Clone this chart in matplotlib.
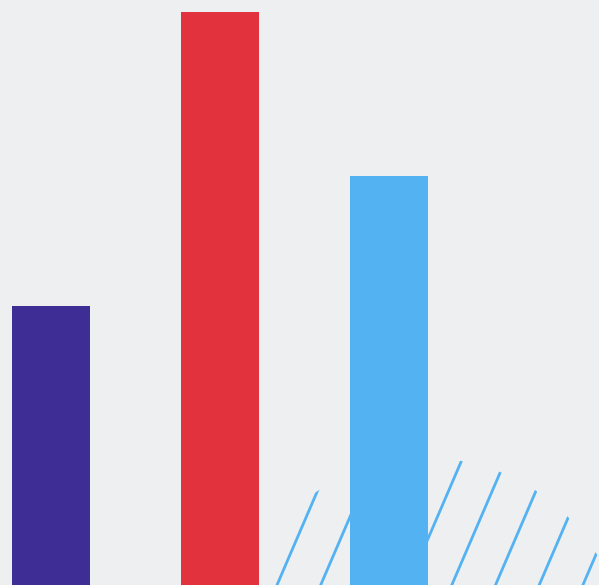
import numpy as np
import matplotlib.pyplot as plt
from matplotlib.patches import Ellipse

categories = ['A', 'B', 'C']
values = [48.8, 100, 71.4]
colors = ['#3d2d94', '#e1323d', '#53b2f2']

BG = '#eeeff1'
W, H = 599, 585

fig = plt.figure(figsize=(W / 100, H / 100), dpi=100, facecolor=BG)
ax = fig.add_axes([0, 0, 1, 1])
ax.set_facecolor(BG)

x = np.arange(len(categories))
ax.bar(x, values, width=0.4615, color=colors, zorder=3)
ax.set_xlim(-0.302, 3.243)
ax.set_ylim(0, 102.18)
ax.axis('off')

# decorative hatched circle behind the bars (axes fraction coords)
cx, cy, r = 427, 656, 198
circ = Ellipse((cx / W, 1 - cy / H), 2 * r / W, 2 * r / H,
               transform=ax.transAxes, facecolor='none', edgecolor='none')
ax.add_patch(circ)
slope = 0.43   # dx per dy in pixels (going up -> right)
for x0 in 277 + 43.7 * np.arange(-2, 10):
    xs = np.array([x0 - slope * 100, x0 + slope * 400])
    ys = np.array([H + 100, H - 400])
    ln, = ax.plot(xs / W, 1 - ys / H, color='#53b2f2', lw=2,
                  transform=ax.transAxes, zorder=2, solid_capstyle='butt')
    ln.set_clip_path(circ)

fig.savefig('out.png', dpi=100, facecolor=BG)
